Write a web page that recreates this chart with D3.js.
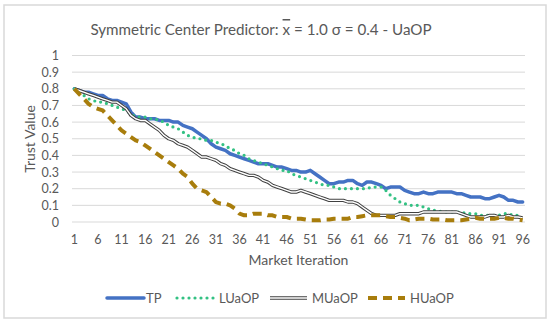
<!DOCTYPE html>
<html>
<head>
<meta charset="utf-8">
<script src="https://cdn.jsdelivr.net/npm/d3@7"></script>
<style>
  body { margin: 0; background: #fff; }
  text { font-family: Lato, "Open Sans", sans-serif; fill: #595959; }
</style>
</head>
<body>
<div id="chart"></div>
<script>
// iterations 1..96
var iterations = d3.range(1, 97);

var tp = [
  0.80, 0.79, 0.78, 0.78, 0.77, 0.76, 0.76, 0.74, 0.73, 0.73,
  0.72, 0.71, 0.66, 0.63, 0.63, 0.62, 0.62, 0.62, 0.61, 0.61,
  0.61, 0.60, 0.60, 0.58, 0.57, 0.56, 0.54, 0.52, 0.50, 0.47,
  0.45, 0.44, 0.43, 0.41, 0.40, 0.39, 0.38, 0.37, 0.36, 0.35,
  0.35, 0.35, 0.34, 0.33, 0.33, 0.32, 0.31, 0.31, 0.30, 0.30,
  0.31, 0.29, 0.27, 0.25, 0.23, 0.23, 0.24, 0.24, 0.25, 0.25,
  0.23, 0.22, 0.24, 0.24, 0.23, 0.22, 0.20, 0.21, 0.21, 0.21,
  0.19, 0.18, 0.17, 0.17, 0.18, 0.17, 0.17, 0.18, 0.18, 0.18,
  0.18, 0.17, 0.17, 0.16, 0.15, 0.15, 0.15, 0.14, 0.14, 0.15,
  0.16, 0.15, 0.13, 0.13, 0.12, 0.12
];

var luaop = [
  0.80, 0.78, 0.76, 0.74, 0.73, 0.72, 0.72, 0.71, 0.70, 0.69,
  0.68, 0.67, 0.65, 0.63, 0.63, 0.63, 0.62, 0.62, 0.61, 0.60,
  0.58, 0.57, 0.56, 0.54, 0.52, 0.51, 0.50, 0.50, 0.49, 0.49,
  0.48, 0.47, 0.46, 0.44, 0.43, 0.41, 0.40, 0.38, 0.37, 0.36,
  0.35, 0.34, 0.33, 0.32, 0.31, 0.31, 0.29, 0.28, 0.27, 0.26,
  0.25, 0.24, 0.23, 0.22, 0.22, 0.21, 0.20, 0.20, 0.20, 0.20,
  0.20, 0.20, 0.20, 0.21, 0.21, 0.21, 0.19, 0.16, 0.14, 0.12,
  0.11, 0.10, 0.10, 0.10, 0.09, 0.08, 0.07, 0.07, 0.06, 0.06,
  0.06, 0.06, 0.06, 0.05, 0.05, 0.05, 0.04, 0.04, 0.04, 0.04,
  0.04, 0.05, 0.05, 0.04, 0.04, 0.03
];

var muaop = [
  0.80, 0.79, 0.78, 0.77, 0.76, 0.75, 0.74, 0.73, 0.72, 0.72,
  0.70, 0.68, 0.64, 0.62, 0.61, 0.61, 0.59, 0.57, 0.55, 0.52,
  0.50, 0.49, 0.47, 0.46, 0.45, 0.43, 0.41, 0.39, 0.39, 0.38,
  0.37, 0.35, 0.34, 0.32, 0.31, 0.30, 0.29, 0.28, 0.28, 0.27,
  0.25, 0.24, 0.22, 0.21, 0.20, 0.19, 0.18, 0.18, 0.19, 0.18,
  0.17, 0.16, 0.15, 0.14, 0.13, 0.13, 0.13, 0.13, 0.12, 0.12,
  0.11, 0.09, 0.07, 0.05, 0.04, 0.04, 0.04, 0.04, 0.04, 0.05,
  0.05, 0.05, 0.05, 0.05, 0.06, 0.06, 0.06, 0.06, 0.06, 0.06,
  0.06, 0.06, 0.05, 0.04, 0.03, 0.03, 0.03, 0.03, 0.04, 0.04,
  0.03, 0.03, 0.04, 0.03, 0.03, 0.025
];

var huaop = [
  0.80, 0.77, 0.74, 0.71, 0.69, 0.68, 0.67, 0.64, 0.61, 0.58,
  0.55, 0.53, 0.51, 0.49, 0.48, 0.46, 0.44, 0.42, 0.40, 0.38,
  0.36, 0.34, 0.32, 0.29, 0.27, 0.23, 0.20, 0.19, 0.18, 0.15,
  0.12, 0.11, 0.11, 0.10, 0.08, 0.05, 0.04, 0.04, 0.05, 0.05,
  0.05, 0.04, 0.04, 0.03, 0.03, 0.03, 0.02, 0.02, 0.02, 0.015,
  0.01, 0.01, 0.01, 0.015, 0.015, 0.02, 0.02, 0.02, 0.02, 0.03,
  0.03, 0.035, 0.04, 0.04, 0.04, 0.04, 0.035, 0.03, 0.03, 0.025,
  0.02, 0.01, 0.015, 0.02, 0.02, 0.02, 0.015, 0.015, 0.015, 0.01,
  0.01, 0.01, 0.01, 0.015, 0.02, 0.025, 0.02, 0.02, 0.02, 0.02,
  0.025, 0.025, 0.02, 0.02, 0.015, 0.01
];

var yTicks = [0, 0.1, 0.2, 0.3, 0.4, 0.5, 0.6, 0.7, 0.8, 0.9, 1];
var xTicks = iterations.filter(function(d) { return (d - 1) % 5 === 0; });

var seriesNames = ["TP", "LUaOP", "MUaOP", "HUaOP"];
var seriesValues = [tp, luaop, muaop, huaop];

var width = 550, height = 326;
var plotLeft = 72, plotRight = 525, plotTop = 55.5, plotBottom = 222;

var svg = d3.select("#chart").append("svg")
    .attr("width", width)
    .attr("height", height);

svg.append("rect")
    .attr("x", 4).attr("y", 5)
    .attr("width", 542).attr("height", 313)
    .attr("fill", "#fff")
    .attr("stroke", "#d9d9d9")
    .attr("stroke-width", 1.5);

var x = d3.scaleBand().domain(iterations).range([plotLeft, plotRight]);
var y = d3.scaleLinear().domain([0, 1]).range([plotBottom, plotTop]);
var cx = function(d) { return x(d) + x.bandwidth() / 2; };

// gridlines
svg.append("g").selectAll("line")
    .data(yTicks)
    .enter().append("line")
    .attr("x1", plotLeft).attr("x2", plotRight)
    .attr("y1", function(d) { return y(d); })
    .attr("y2", function(d) { return y(d); })
    .attr("stroke", "#d9d9d9")
    .attr("stroke-width", 1);

var yAxis = svg.append("g")
    .attr("transform", "translate(" + (plotLeft - 10) + ",0)")
    .call(d3.axisLeft(y).tickValues(yTicks).tickSize(0).tickFormat(function(d) { return d3.format("~g")(d); }));
yAxis.select(".domain").remove();
yAxis.selectAll("text").style("font-size", "12.5px").style("font-family", "Lato").attr("fill", "#595959");

var xAxis = svg.append("g")
    .attr("transform", "translate(0," + (plotBottom + 10) + ")")
    .call(d3.axisBottom(x).tickValues(xTicks).tickSize(0));
xAxis.select(".domain").remove();
xAxis.selectAll("text").style("font-size", "12.5px").style("font-family", "Lato").attr("fill", "#595959");

var title = svg.append("text")
    .attr("x", 261).attr("y", 35)
    .attr("text-anchor", "middle")
    .style("font-size", "15.2px");
title.append("tspan").text("Symmetric Center Predictor: ");
title.append("tspan").style("text-decoration", "overline").text("x");
title.append("tspan").text(" = 1.0 \u03c3 = 0.4 - UaOP");

svg.append("text")
    .attr("transform", "translate(35,139) rotate(-90)")
    .attr("text-anchor", "middle")
    .style("font-size", "14px")
    .text("Trust Value");

svg.append("text")
    .attr("x", (plotLeft + plotRight) / 2).attr("y", 265)
    .attr("text-anchor", "middle")
    .style("font-size", "14px")
    .text("Market Iteration");

var line = d3.line()
    .x(function(d, i) { return cx(iterations[i]); })
    .y(function(d) { return y(d); });

var styles = [
  [{ stroke: "#4472c4", w: 3.5, dash: null, cap: "round" }],
  [{ stroke: "#33c183", w: 3.2, dash: "0,6", cap: "round" }],
  [{ stroke: "#404040", w: 3.4, dash: null, cap: "butt" }, { stroke: "#fff", w: 1.4, dash: null, cap: "butt" }],
  [{ stroke: "#a87d0c", w: 4, dash: "9,6", cap: "butt" }]
];

seriesValues.forEach(function(vals, k) {
  styles[k].forEach(function(s) {
    svg.append("path")
      .datum(vals)
      .attr("d", line)
      .attr("fill", "none")
      .attr("stroke", s.stroke)
      .attr("stroke-width", s.w)
      .attr("stroke-dasharray", s.dash)
      .attr("stroke-linecap", s.cap)
      .attr("stroke-linejoin", "round");
  });
});

// legend
var legendX = [107, 177, 270, 368];
var legend = svg.append("g");
seriesNames.forEach(function(name, k) {
  styles[k].forEach(function(s) {
    legend.append("line")
      .attr("x1", legendX[k]).attr("x2", legendX[k] + 37)
      .attr("y1", 298).attr("y2", 298)
      .attr("stroke", s.stroke)
      .attr("stroke-width", s.w)
      .attr("stroke-dasharray", s.dash)
      .attr("stroke-linecap", s.cap);
  });
  legend.append("text")
    .attr("x", legendX[k] + (k === 0 ? 39 : 42)).attr("y", 302.5)
    .style("font-size", "13px")
    .text(name);
});
</script>
</body>
</html>
